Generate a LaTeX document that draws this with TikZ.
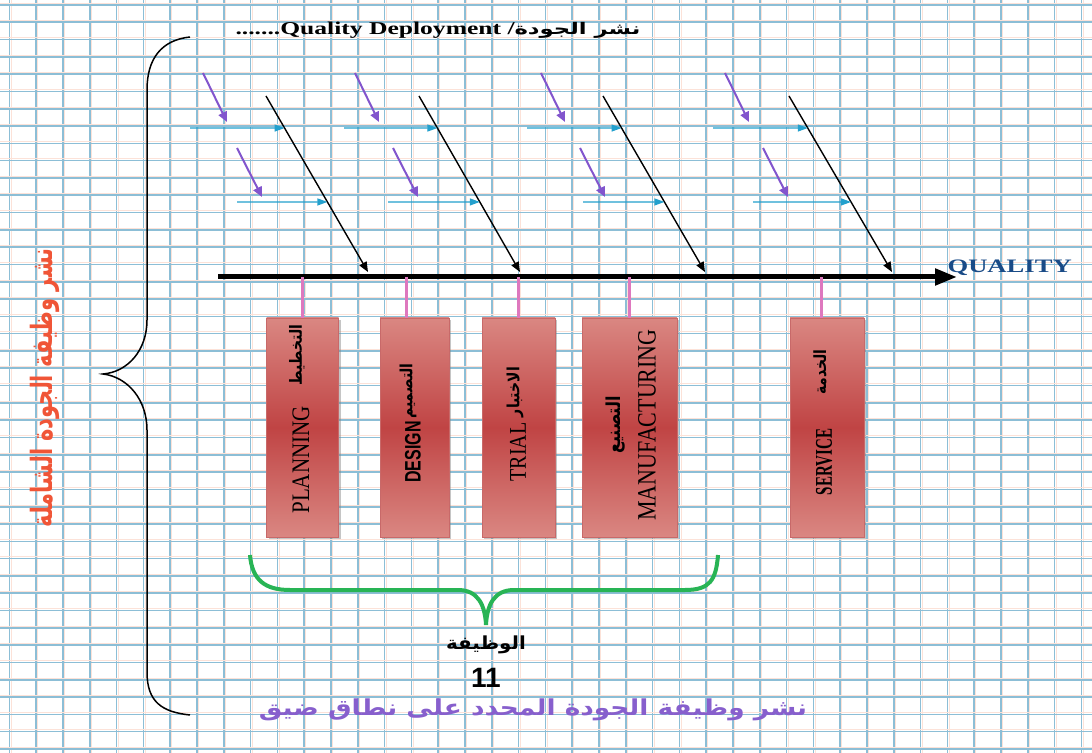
\documentclass[tikz,border=0pt]{standalone}
\usepackage{fontspec}
\setmainfont{Liberation Serif}
\newfontfamily\arabicfont[Script=Arabic]{DejaVu Sans}
\newfontfamily\sansfont{Liberation Sans}
\TeXXeTstate=1
\usetikzlibrary{arrows.meta,calc,shadows}

\definecolor{gridblue}{RGB}{140,190,214}
\definecolor{gridpink}{RGB}{252,226,216}
\definecolor{cyanbone}{RGB}{35,160,205}
\definecolor{purplebone}{RGB}{130,85,205}
\definecolor{stubpink}{RGB}{222,120,190}
\definecolor{qualblue}{RGB}{25,75,135}
\definecolor{leftred}{RGB}{240,85,55}
\definecolor{bracegreen}{RGB}{40,180,85}
\definecolor{textpurple}{RGB}{135,95,205}
\definecolor{boxlight}{RGB}{218,135,130}
\definecolor{boxdark}{RGB}{192,68,68}
\definecolor{boxedge}{RGB}{200,105,105}

\newcommand{\ar}[1]{{\arabicfont\bfseries\beginR #1\endR}}

\begin{document}
\begin{tikzpicture}[x=0.5pt, y=-0.5pt,
    bone/.style={-{Triangle[length=5pt,width=4pt]}, line width=0.7pt, black},
    cause/.style={-{Triangle[length=5pt,width=3.5pt]}, line width=0.6pt, cyanbone},
    subcause/.style={-{Triangle[length=5pt,width=4.5pt]}, line width=1pt, purplebone},
    spine/.style={-{Triangle[length=11pt,width=8pt]}, line width=2.5pt, black},
    stub/.style={line width=1.5pt, stubpink},
    stage/.style={draw=boxedge, line width=0.4pt, inner sep=0pt, outer sep=0pt,
        top color=boxlight, bottom color=boxlight, middle color=boxdark,
        minimum height=109.5pt,
        drop shadow={shadow xshift=1pt, shadow yshift=-1pt, opacity=0.45}},
    boxlabel/.style={inner sep=0pt, xscale=#1, rotate=90},
    boxlabel/.default=1.2]

    % --- background grid ---
    \useasboundingbox (0,0) rectangle (1092,753);
    \fill[white] (0,0) rectangle (1092,753);
    \foreach \gx in {0,...,40} {
        \draw[gridpink, line width=0.5pt] ({11+26.8*\gx},0) -- ++(0,753);
        \draw[gridblue, line width=0.8pt] ({9.3+26.8*\gx},0) -- ++(0,753);
    }
    \foreach \gy in {0,...,43} {
        \draw[gridpink, line width=0.5pt] (0,{3.3+17.3*\gy}) -- ++(1092,0);
        \draw[gridblue, line width=0.8pt] (0,{5+17.3*\gy}) -- ++(1092,0);
    }

    % --- left brace ---
    \draw[line width=0.75pt] (190,37) .. controls (162,40) and (147,58) .. (147,90)
        -- (147,320) .. controls (147,350) and (128,372) .. (103,374)
        .. controls (128,377) and (147,400) .. (147,430)
        -- (147,672) .. controls (147,702) and (162,712) .. (190,715);
    \node[leftred, inner sep=0pt, xscale=1.4, rotate=90, font=\fontsize{10.5}{12}\selectfont] (total) at (45,388)
        {\ar{نشر وظيفة الجودة الشاملة}};

    % --- title ---
    \node[anchor=west, inner sep=0pt, xscale=1.42, font=\fontsize{9}{11}\selectfont\bfseries] (title) at (235,30)
        {.......Quality Deployment /{\fontsize{8}{10}\selectfont\ar{نشر الجودة}}};

    % --- bones: black main arrow, cyan causes, purple sub-causes ---
    \foreach \i/\tx/\hx/\cu/\cl/\pu/\pl in
        {1/266/368/190/237/203/237, 2/419/520/344/388/355/393,
         3/603/705/527/583/541/580, 4/789/892/713/753/725/763} {
        \coordinate (top\i) at (\tx,96);
        \coordinate (head\i) at (\hx,272);
        \draw[bone] (top\i) -- (head\i);
        \coordinate (cu\i) at (\cu,128);
        \coordinate (cl\i) at (\cl,202);
        \draw[cause] (cu\i) -- ($(top\i)!0.182!(head\i)$);
        \draw[cause] (cl\i) -- ($(top\i)!0.602!(head\i)$);
        \draw[subcause] (\pu,73) -- ++(24,49);
        \draw[subcause] (\pl,148) -- ++(25,49);
    }

    % --- spine ---
    \coordinate (tail) at (218,277);
    \coordinate (tip) at (957,277);
    \draw[spine] (tail) -- (tip);
    \node[anchor=west, inner sep=0pt, xscale=1.4, qualblue, font=\fontsize{9.5}{11}\selectfont\bfseries] (quality) at (947,268) {QUALITY};

    % --- stage boxes ---
    \node[stage, minimum width=36pt]   (plan)    at (302.5,427.5) {};
    \node[stage, minimum width=34.5pt] (design)  at (414.5,427.5) {};
    \node[stage, minimum width=36.5pt] (trial)   at (518.5,427.5) {};
    \node[stage, minimum width=47.5pt] (manuf)   at (629.5,427.5) {};
    \node[stage, minimum width=37pt]   (service) at (827,427.5) {};

    \draw[stub] (plan.north) -- (plan.north |- tail);
    \draw[stub] ([xshift=-4.25pt]design.north) -- ([xshift=-4.25pt]design.north |- tail);
    \draw[stub] (trial.north) -- (trial.north |- tail);
    \draw[stub] (manuf.north) -- (manuf.north |- tail);
    \draw[stub] ([xshift=-3pt]service.north) -- ([xshift=-3pt]service.north |- tail);

    % --- box labels ---
    \node[boxlabel, font=\fontsize{10.5}{12}\selectfont] (planen) at (301,460) {PLANNING};
    \node[boxlabel, font=\fontsize{7}{9}\selectfont] (planar) at (297,355) {\ar{التخطيط}};
    \node[boxlabel=1.4, font=\fontsize{8}{10}\selectfont\sansfont\bfseries] (designen) at (413,452) {DESIGN};
    \node[boxlabel, font=\fontsize{7}{9}\selectfont] (designar) at (408,391) {\ar{التصميم}};
    \node[boxlabel, font=\fontsize{10}{12}\selectfont] (trialen) at (518,452) {TRIAL};
    \node[boxlabel, font=\fontsize{7}{9}\selectfont] (trialar) at (515,392) {\ar{الاختبار}};
    \node[boxlabel, font=\fontsize{11}{13}\selectfont] (manufen) at (647,425) {MANUFACTURING};
    \node[boxlabel, font=\fontsize{8}{10}\selectfont] (manufar) at (616,425) {\ar{التصنيع}};
    \node[boxlabel=1.6, font=\fontsize{7.5}{9}\selectfont\bfseries] (serviceen) at (824,462) {SERVICE};
    \node[boxlabel, font=\fontsize{7}{9}\selectfont] (servicear) at (820,372) {\ar{الخدمة}};

    % --- green brace and bottom text ---
    \draw[bracegreen, line width=2pt] (250,555) .. controls (252,580) and (265,590) .. (290,590)
        -- (458,590) .. controls (478,590) and (485,605) .. (486,625)
        .. controls (487,605) and (494,590) .. (514,590)
        -- (685,590) .. controls (710,590) and (716,580) .. (718,555);
    \node[xscale=1.1, font=\fontsize{9}{11}\selectfont] (func) at (486,645) {\ar{الوظيفة}};
    \node[font=\fontsize{14}{16}\selectfont\sansfont\bfseries] (eleven) at (486,678) {11};
    \node[textpurple, inner sep=0pt, xscale=1.2, font=\fontsize{11}{13}\selectfont] (narrow) at (533,710)
        {\ar{نشر وظيفة الجودة المحدد على نطاق ضيق}};

\end{tikzpicture}
\end{document}
